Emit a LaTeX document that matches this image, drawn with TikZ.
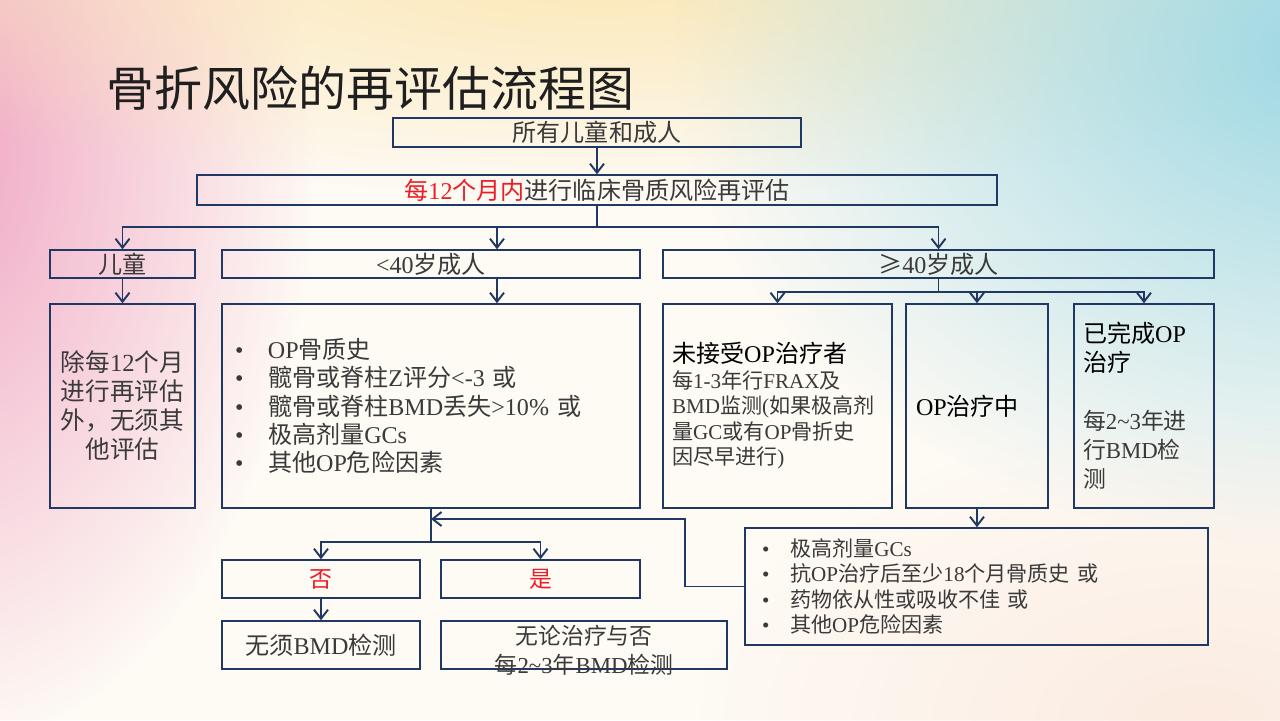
\documentclass[tikz,border=0pt]{standalone}
\usepackage{fontspec}
\setmainfont{Noto Sans CJK SC}
\newfontfamily\enfont{Liberation Serif}
\newcommand{\en}[1]{{\enfont #1}}
\usepackage{tikz}
\usetikzlibrary{arrows.meta}
\usetikzlibrary{fadings}

\definecolor{linecol}{HTML}{203864}
\definecolor{txtcol}{HTML}{3A3A3A}
\definecolor{hicol}{HTML}{EE1C25}
\definecolor{bgcream}{HTML}{FEFAF4}
\definecolor{bgpink}{HTML}{F0A6C4}
\definecolor{bgyellow}{HTML}{FBE3A6}
\definecolor{bgcyan}{HTML}{9ED8E4}
\definecolor{bgpeach}{HTML}{F8DCCD}
\tikzfading[name=softblob, inner color=transparent!0, outer color=transparent!100]

\begin{document}
\begin{tikzpicture}[
        >={Straight Barb[length=1.8mm,width=2.8mm]}, line width=1.1pt,
        box/.style={draw=linecol, line width=0.85pt, inner sep=0pt, text=txtcol,
                    font=\fontsize{13.7}{16.5}\selectfont},
        flow/.style={->, draw=linecol, line width=1.1pt},
    ]
    \begin{scope}
        \clip (0cm, 0cm) rectangle (25.6cm, -14.4cm);
        \fill[bgcream] (0cm, 0cm) rectangle (25.6cm, -14.4cm);
        \fill[bgpink, path fading=softblob] (-1.2cm, -3.0cm) ellipse (7.5cm and 12cm);
        \fill[bgyellow, path fading=softblob, opacity=0.8] (12.0cm, 0.6cm) ellipse (18cm and 4.5cm);
        \fill[bgcyan, path fading=softblob] (26.5cm, -1.0cm) ellipse (13cm and 10cm);
        \fill[bgpeach, path fading=softblob, opacity=0.5] (24.0cm, -14.5cm) ellipse (10cm and 6cm);
    \end{scope}
    \useasboundingbox (0cm, 0cm) rectangle (25.6cm, -14.4cm);

    \node[anchor=west, text=black!88, font=\fontsize{27.3}{32}\selectfont] (title)
        at (2.0cm, -1.76cm) {骨折风险的再评估流程图};

    \node[box, minimum width=8.16cm, minimum height=0.58cm] (all)
        at (11.94cm, -2.65cm) {所有儿童和成人};
    \node[box, minimum width=16.0cm, minimum height=0.60cm] (eval)
        at (11.94cm, -3.80cm) {\textcolor{hicol}{每\en{12}个月内}进行临床骨质风险再评估};

    \node[box, minimum width=2.90cm, minimum height=0.56cm] (child)
        at (2.45cm, -5.28cm) {儿童};
    \node[box, minimum width=8.36cm, minimum height=0.56cm] (young)
        at (8.62cm, -5.28cm) {\en{<40}岁成人};
    \node[box, minimum width=11.02cm, minimum height=0.56cm] (old)
        at (18.77cm, -5.28cm) {≥\en{40}岁成人};

    \node[box, minimum width=2.90cm, minimum height=4.08cm, align=center,
          font=\fontsize{14}{16.5}\selectfont] (childnote)
        at (2.45cm, -8.12cm) {除每\en{12}个月\\进行再评估\\外，无须其\\他评估};

    \node[box, minimum width=8.36cm, minimum height=4.08cm, inner xsep=0.26cm,
          text width=7.84cm, align=left, font=\fontsize{13.7}{16.2}\selectfont] (risk)
        at (8.62cm, -8.12cm) {
        \makebox[0.66cm][l]{\en{•}}\en{OP}骨质史\\
        \makebox[0.66cm][l]{\en{•}}髋骨或脊柱\en{Z}评分\en{<-3} 或\\
        \makebox[0.66cm][l]{\en{•}}髋骨或脊柱\en{BMD}丢失\en{>10\%} 或\\
        \makebox[0.66cm][l]{\en{•}}极高剂量\en{GCs}\\
        \makebox[0.66cm][l]{\en{•}}其他\en{OP}危险因素};

    \node[box, minimum width=4.58cm, minimum height=4.08cm, inner xsep=0.18cm,
          text width=4.22cm, align=left, font=\fontsize{12}{14.5}\selectfont] (notreat)
        at (15.55cm, -8.12cm) {
        {\fontsize{13.7}{15.5}\selectfont\color{black}未接受\en{OP}治疗者}\\
        每\en{1-3}年行\en{FRAX}及\\
        \en{BMD}监测\en{(}如果极高剂\\
        量\en{GC}或有\en{OP}骨折史\\
        因尽早进行\en{)}};

    \node[box, minimum width=2.84cm, minimum height=4.08cm, inner xsep=0.2cm,
          text width=2.44cm, align=left, text=black] (ontreat)
        at (19.54cm, -8.12cm) {\en{OP}治疗中};

    \node[box, minimum width=2.80cm, minimum height=4.08cm, inner xsep=0.18cm,
          text width=2.44cm, align=left, font=\fontsize{13}{16.5}\selectfont] (done)
        at (22.88cm, -8.12cm) {
        {\color{black}\fontsize{13.7}{16.5}\selectfont 已完成\en{OP}}\\
        {\color{black}\fontsize{13.7}{16.5}\selectfont 治疗}\\
        \mbox{}\\
        每\en{2\string~3}年进\\
        行\en{BMD}检\\
        测};

    \node[box, minimum width=9.26cm, minimum height=2.34cm, inner xsep=0.34cm,
          text width=8.58cm, align=left, font=\fontsize{12}{14.6}\selectfont] (recheck)
        at (19.53cm, -11.73cm) {
        \makebox[0.56cm][l]{\en{•}}极高剂量\en{GCs}\\
        \makebox[0.56cm][l]{\en{•}}抗\en{OP}治疗后至少\en{18}个月骨质史 或\\
        \makebox[0.56cm][l]{\en{•}}药物依从性或吸收不佳 或\\
        \makebox[0.56cm][l]{\en{•}}其他\en{OP}危险因素};

    \node[box, minimum width=3.96cm, minimum height=0.76cm, text=hicol,
          font=\fontsize{13}{15}\selectfont] (no)
        at (6.42cm, -11.58cm) {否};
    \node[box, minimum width=3.98cm, minimum height=0.76cm, text=hicol,
          font=\fontsize{13}{15}\selectfont] (yes)
        at (10.81cm, -11.58cm) {是};

    \node[box, minimum width=3.96cm, minimum height=0.96cm] (nobmd)
        at (6.42cm, -12.90cm) {无须\en{BMD}检测};
    \node[box, minimum width=5.72cm, minimum height=0.96cm, font=\fontsize{13}{16.5}\selectfont] (bmd)
        at (11.68cm, -12.90cm) {\raisebox{-0.27cm}[0pt][0pt]{\begin{tabular}{@{}c@{}}
        无论治疗与否\\每\en{2\string~3}年\en{BMD}检测\end{tabular}}};

    \coordinate (split) at (11.94cm, -4.54cm);
    \draw[flow] (all.south) -- (eval.north);
    \draw[flow] (eval.south) -- (split) -| (child.north);
    \draw[flow] (split) -| ([xshift=1.32cm]young.north);
    \draw[flow] (split) -| (old.north);

    \draw[flow] (child.south) -- (childnote.north);
    \draw[flow] ([xshift=1.32cm]young.south) -- ([xshift=1.32cm]risk.north);

    \coordinate (osplit) at (18.77cm, -5.84cm);
    \draw[flow] (old.south) -- (osplit) -| (notreat.north);
    \draw[flow] (osplit) -| (ontreat.north);
    \draw[flow] (osplit) -| (done.north);
    \draw[flow] (ontreat.south) -- (ontreat.south |- recheck.north);

    \coordinate (rsplit) at (8.62cm, -10.84cm);
    \coordinate (back) at (8.62cm, -10.38cm);
    \draw[flow] (risk.south) -- (rsplit) -| (no.north);
    \draw[flow] (rsplit) -| (yes.north);
    \draw[flow] (recheck.west) -- ++(-1.18cm, 0cm) |- (back);
    \draw[flow] (no.south) -- (nobmd.north);
\end{tikzpicture}
\end{document}
